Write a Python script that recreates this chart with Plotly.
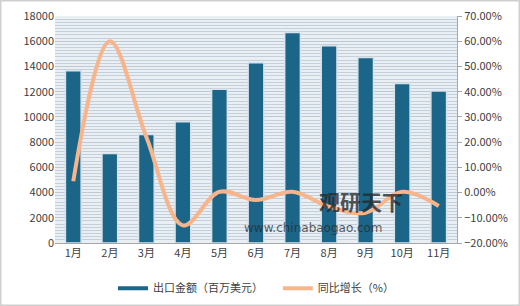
import plotly.graph_objects as go

months = ["1月", "2月", "3月", "4月", "5月", "6月", "7月", "8月", "9月", "10月", "11月"]
export_value = [13650, 7100, 8600, 9620, 12200, 14300, 16700, 15650, 14700, 12650, 12050]
yoy_growth = [4.5, 60.0, 22.0, -13.0, 0.3, -3.0, 0.3, -5.6, -8.0, 0.3, -5.3]

bar_color = "#1B6688"
line_color = "#F8B48A"
font_fam = "Noto Sans CJK SC, Noto Sans, sans-serif"

fig = go.Figure()
fig.add_trace(go.Bar(
    x=months, y=export_value, name="出口金额（百万美元）",
    marker=dict(color=bar_color, line=dict(color="#D8E2EA", width=1.5)),
    showlegend=False, yaxis="y",
))
fig.add_trace(go.Scatter(
    x=months, y=yoy_growth, name="同比增长（%）", mode="lines",
    line=dict(color=line_color, width=4, shape="spline", smoothing=1.0),
    yaxis="y2", showlegend=False,
))
# legend entries drawn as lines
fig.add_trace(go.Scatter(x=[None], y=[None], mode="lines", name="出口金额（百万美元）    ",
                         line=dict(color=bar_color, width=4)))
fig.add_trace(go.Scatter(x=[None], y=[None], mode="lines", name="同比增长（%）",
                         line=dict(color=line_color, width=4)))

fig.update_layout(
    width=520, height=306,
    margin=dict(l=55, r=63, t=16, b=63, autoexpand=False),
    paper_bgcolor="white",
    plot_bgcolor="#EAEFF4",
    font=dict(family=font_fam, size=11, color="#404040"),
    bargap=0.57,
    xaxis=dict(showgrid=False, showline=True, linecolor="#A6A6A6", linewidth=1,
               ticks="", tickfont=dict(size=11, color="#404040")),
    yaxis=dict(range=[0, 18000], dtick=2000, tickformat="d", showgrid=True,
               gridcolor="#BCC8D4", gridwidth=1,
               minor=dict(dtick=250, showgrid=True, gridcolor="#C3CFDA", gridwidth=1),
               showline=False, zeroline=False, tickfont=dict(size=11, color="#404040"),
               ticklen=0),
    yaxis2=dict(range=[-20, 70], dtick=10, overlaying="y", side="right", showgrid=False,
                zeroline=False, showline=True, linecolor="#A6A6A6", ticks="outside",
                ticklen=4, tickcolor="#A6A6A6",
                tickformat=".2f", ticksuffix="%", tickfont=dict(size=11, color="#404040")),
    legend=dict(orientation="h", x=0.5, xanchor="center", y=-0.135, yanchor="top",
                bgcolor="white", font=dict(size=11, color="#404040"),
                itemwidth=30, tracegroupgap=0),
)
fig.update_layout(shapes=[dict(type="rect", xref="x domain", yref="y domain",
                                x0=-55/402, x1=1+63/402, y0=-63/227, y1=1+16/227,
                                line=dict(color="#D0D0D0", width=3))])
fig.add_annotation(text="<b>观研天下</b>", xref="paper", yref="paper", x=0.87, y=0.11,
                   showarrow=False, font=dict(size=21, color="rgba(40,40,40,0.8)"))
fig.add_annotation(text="www.chinabaogao.com", xref="paper", yref="paper", x=0.82, y=0.026,
                   showarrow=False, font=dict(size=12, color="rgba(40,40,40,0.75)",
                                               family="DejaVu Sans"))

fig.write_html("out.html")
